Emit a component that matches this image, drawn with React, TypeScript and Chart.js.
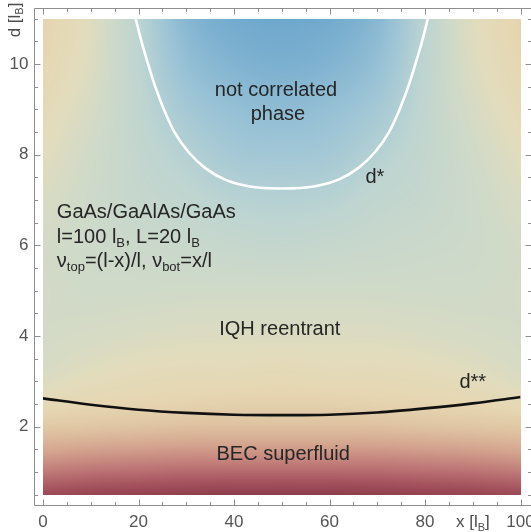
import React, { useEffect, useRef } from "react";
import { Chart, registerables } from "chart.js";

Chart.register(...registerables);

const W = 531;
const H = 532;

// Phase boundary d*(x): upper edge of the IQH region
const dStarX = [19.4, 20.6, 22, 23.5, 25.3, 27.5, 30.5, 34, 38, 43, 50, 57, 62, 66, 69.5, 72.5, 74.7, 76.5, 78, 79.4, 80.6];
const dStarD = [11.0, 10.5, 10.0, 9.5, 9.0, 8.5, 8.05, 7.7, 7.45, 7.3, 7.25, 7.3, 7.45, 7.7, 8.05, 8.5, 9.0, 9.5, 10.0, 10.5, 11.0];

// Phase boundary d**(x): BEC superfluid / IQH reentrant
const dStarStarX = [0, 10, 20, 30, 40, 50, 60, 70, 80, 90, 100];
const dStarStarD = [2.62, 2.48, 2.37, 2.3, 2.26, 2.25, 2.26, 2.31, 2.4, 2.51, 2.65];

// Normalised order parameter sampled on an (x, d) grid
const fieldX = [0, 10, 20, 30, 40, 50, 60, 70, 80, 90, 100];
const fieldD = [0.5, 1, 1.5, 2, 2.5, 3, 4, 5, 6, 7, 8, 9, 10, 11];
const fieldRows: number[][] = [
  [0.07, 0.05, 0.04, 0.03, 0.02, 0.02, 0.02, 0.03, 0.04, 0.05, 0.07],
  [0.2, 0.18, 0.17, 0.16, 0.16, 0.16, 0.16, 0.16, 0.17, 0.18, 0.2],
  [0.32, 0.3, 0.29, 0.28, 0.28, 0.28, 0.28, 0.28, 0.29, 0.3, 0.32],
  [0.42, 0.41, 0.4, 0.39, 0.39, 0.39, 0.39, 0.39, 0.4, 0.41, 0.42],
  [0.5, 0.48, 0.47, 0.46, 0.45, 0.45, 0.45, 0.46, 0.47, 0.48, 0.5],
  [0.56, 0.53, 0.51, 0.5, 0.5, 0.49, 0.5, 0.5, 0.51, 0.53, 0.56],
  [0.59, 0.58, 0.57, 0.56, 0.56, 0.56, 0.56, 0.56, 0.57, 0.58, 0.59],
  [0.59, 0.6, 0.6, 0.6, 0.6, 0.6, 0.6, 0.6, 0.6, 0.6, 0.59],
  [0.59, 0.61, 0.62, 0.63, 0.64, 0.65, 0.64, 0.63, 0.62, 0.61, 0.59],
  [0.57, 0.61, 0.64, 0.66, 0.69, 0.7, 0.69, 0.66, 0.64, 0.61, 0.57],
  [0.54, 0.6, 0.65, 0.7, 0.75, 0.76, 0.75, 0.7, 0.65, 0.6, 0.54],
  [0.51, 0.58, 0.66, 0.75, 0.8, 0.82, 0.8, 0.75, 0.66, 0.58, 0.51],
  [0.48, 0.56, 0.67, 0.8, 0.86, 0.88, 0.86, 0.8, 0.67, 0.56, 0.48],
  [0.46, 0.55, 0.68, 0.84, 0.91, 0.93, 0.91, 0.84, 0.68, 0.55, 0.46],
];

// Axis ticks
const xTicks = [0, 20, 40, 60, 80, 100];
const xTickLabels = ["0", "20", "40", "60", "80", "100"];
const yTicks = [2, 4, 6, 8, 10];
const yTickLabels = ["2", "4", "6", "8", "10"];

// Red-to-blue colour scale
const scaleStops = [0, 0.1, 0.2, 0.3, 0.4, 0.48, 0.54, 0.6, 0.68, 0.78, 0.88, 1];
const scaleColors = ["#883747", "#a5535e", "#c07a78", "#d4a38e", "#dfc4a2", "#e6d7b2", "#e2dcbd", "#d0dac8", "#bcd4d2", "#9cc4d6", "#7cb0d0", "#5d9cc8"];

type Part = [string, boolean];
type Note = { x: number; d: number; parts: Part[]; align: CanvasTextAlign };

const notes: Note[] = [
  { x: 48.8, d: 9.42, parts: [["not correlated", false]], align: "center" },
  { x: 49.2, d: 8.89, parts: [["phase", false]], align: "center" },
  { x: 69.5, d: 7.5, parts: [["d*", false]], align: "center" },
  { x: 2.9, d: 6.71, parts: [["GaAs/GaAlAs/GaAs", false]], align: "left" },
  { x: 2.9, d: 6.18, parts: [["l=100 l", false], ["B", true], [", L=20 l", false], ["B", true]], align: "left" },
  { x: 2.9, d: 5.65, parts: [["ν", false], ["top", true], ["=(l-x)/l, ν", false], ["bot", true], ["=x/l", false]], align: "left" },
  { x: 49.6, d: 4.15, parts: [["IQH reentrant", false]], align: "center" },
  { x: 90, d: 2.96, parts: [["d**", false]], align: "center" },
  { x: 50.3, d: 1.39, parts: [["BEC superfluid", false]], align: "center" },
];

const FONT = '"Liberation Sans", Arial, Helvetica, sans-serif';

function hexToRgb(h: string): number[] {
  const n = parseInt(h.slice(1), 16);
  return [(n >> 16) & 255, (n >> 8) & 255, n & 255];
}
const scaleRgb = scaleColors.map(hexToRgb);

function colorAt(v: number): number[] {
  if (v <= scaleStops[0]) return scaleRgb[0];
  const n = scaleStops.length;
  if (v >= scaleStops[n - 1]) return scaleRgb[n - 1];
  let k = 0;
  while (k < n - 2 && v > scaleStops[k + 1]) k++;
  const t = (v - scaleStops[k]) / (scaleStops[k + 1] - scaleStops[k]);
  const a = scaleRgb[k];
  const b = scaleRgb[k + 1];
  return [a[0] + (b[0] - a[0]) * t, a[1] + (b[1] - a[1]) * t, a[2] + (b[2] - a[2]) * t];
}

// Cubic Hermite interpolation on a non-uniform grid
function hermite(xs: number[], ys: ArrayLike<number>, x: number): number {
  const n = xs.length;
  if (x <= xs[0]) return ys[0];
  if (x >= xs[n - 1]) return ys[n - 1];
  let k = 0;
  while (k < n - 2 && x > xs[k + 1]) k++;
  const slope = (i: number) => {
    if (i === 0) return (ys[1] - ys[0]) / (xs[1] - xs[0]);
    if (i === n - 1) return (ys[n - 1] - ys[n - 2]) / (xs[n - 1] - xs[n - 2]);
    return 0.5 * ((ys[i + 1] - ys[i]) / (xs[i + 1] - xs[i]) + (ys[i] - ys[i - 1]) / (xs[i] - xs[i - 1]));
  };
  const h = xs[k + 1] - xs[k];
  const t = (x - xs[k]) / h;
  const t2 = t * t;
  const t3 = t2 * t;
  return (
    (2 * t3 - 3 * t2 + 1) * ys[k] +
    (t3 - 2 * t2 + t) * h * slope(k) +
    (-2 * t3 + 3 * t2) * ys[k + 1] +
    (t3 - t2) * h * slope(k + 1)
  );
}

function drawRich(ctx: CanvasRenderingContext2D, parts: Part[], x: number, y: number, align: CanvasTextAlign, size: number, subSize: number, subShift: number) {
  const mainFont = `${size}px ${FONT}`;
  const subFont = `${subSize}px ${FONT}`;
  let total = 0;
  for (const [t, sub] of parts) {
    ctx.font = sub ? subFont : mainFont;
    total += ctx.measureText(t).width;
  }
  let cx = align === "center" ? x - total / 2 : align === "right" ? x - total : x;
  ctx.textAlign = "left";
  ctx.textBaseline = "middle";
  for (const [t, sub] of parts) {
    ctx.font = sub ? subFont : mainFont;
    ctx.fillText(t, cx, sub ? y + subShift : y);
    cx += ctx.measureText(t).width;
  }
}

const heatmapPlugin = {
  id: "heatmap",
  beforeDatasetsDraw(chart: any) {
    const { ctx, chartArea: a, scales } = chart;
    const xs = scales.x;
    const ys = scales.y;
    const w = Math.round(a.right - a.left);
    const h = Math.round(a.bottom - a.top);
    const off = document.createElement("canvas");
    off.width = w;
    off.height = h;
    const octx = off.getContext("2d")!;
    const img = octx.createImageData(w, h);
    const col = new Array(fieldD.length).fill(0);
    for (let i = 0; i < w; i++) {
      const xv = xs.getValueForPixel(a.left + (i + 0.5) * ((a.right - a.left) / w));
      for (let r = 0; r < fieldD.length; r++) col[r] = hermite(fieldX, fieldRows[r], xv);
      for (let j = 0; j < h; j++) {
        const dv = ys.getValueForPixel(a.top + (j + 0.5) * ((a.bottom - a.top) / h));
        const c = colorAt(hermite(fieldD, col, dv));
        const p = (j * w + i) * 4;
        img.data[p] = c[0];
        img.data[p + 1] = c[1];
        img.data[p + 2] = c[2];
        img.data[p + 3] = 255;
      }
    }
    octx.putImageData(img, 0, 0);
    ctx.save();
    ctx.imageSmoothingEnabled = true;
    ctx.drawImage(off, a.left, a.top, a.right - a.left, a.bottom - a.top);
    ctx.restore();
  },
};

const framePlugin = {
  id: "frame",
  afterDatasetsDraw(chart: any) {
    const { ctx, chartArea: a, scales } = chart;
    const xs = scales.x;
    const ys = scales.y;

    // text annotations inside the plot
    ctx.save();
    ctx.fillStyle = "#262626";
    for (const n of notes) {
      drawRich(ctx, n.parts, xs.getPixelForValue(n.x), ys.getPixelForValue(n.d), n.align, 20, 13, 6);
    }
    ctx.restore();

    // frame, offset from the plot area
    const L = Math.round(a.left - 9.5) + 0.5;
    const T = Math.round(a.top - 11) + 0.5;
    const B = Math.round(a.bottom + 10) + 0.5;
    const R = Math.round(a.right + 10) + 0.5;
    ctx.save();
    ctx.strokeStyle = "#8e8e8e";
    ctx.lineWidth = 1;
    ctx.beginPath();
    ctx.moveTo(L, T);
    ctx.lineTo(R, T);
    ctx.lineTo(R, B);
    ctx.lineTo(L, B);
    ctx.closePath();
    ctx.stroke();

    ctx.beginPath();
    for (let v = 0; v <= 100.001; v += 5) {
      const major = xTicks.includes(Math.round(v));
      const len = major ? 6 : 3.5;
      const px = Math.round(xs.getPixelForValue(v)) + 0.5;
      ctx.moveTo(px, B);
      ctx.lineTo(px, B - len);
      ctx.moveTo(px, T);
      ctx.lineTo(px, T + len);
    }
    for (let v = 0.5; v <= 11.001; v += 0.5) {
      const major = yTicks.includes(v);
      const len = major ? 6 : 3.5;
      const py = Math.round(ys.getPixelForValue(v)) + 0.5;
      ctx.moveTo(L, py);
      ctx.lineTo(L + len, py);
      ctx.moveTo(R, py);
      ctx.lineTo(R - len, py);
    }
    ctx.stroke();

    // tick labels
    ctx.fillStyle = "#555555";
    ctx.font = `17px ${FONT}`;
    ctx.textBaseline = "middle";
    ctx.textAlign = "right";
    yTicks.forEach((v, i) => ctx.fillText(yTickLabels[i], L - 6, ys.getPixelForValue(v)));
    ctx.textAlign = "center";
    xTicks.forEach((v, i) => ctx.fillText(xTickLabels[i], xs.getPixelForValue(v), B + 17));

    // axis titles
    ctx.fillStyle = "#4d4d4d";
    drawRich(ctx, [["x [l", false], ["B", true], ["]", false]], 456, B + 17, "left", 17, 11, 5);
    ctx.translate(15, 20);
    ctx.rotate(-Math.PI / 2);
    drawRich(ctx, [["d [l", false], ["B", true], ["]", false]], 0, 0, "center", 17, 11, 5);
    ctx.restore();
  },
};

export default function App() {
  const ref = useRef<HTMLCanvasElement | null>(null);

  useEffect(() => {
    if (!ref.current) return;
    const chart = new Chart(ref.current, {
      type: "line",
      data: {
        datasets: [
          {
            label: "d*",
            data: dStarX.map((x, i) => ({ x, y: dStarD[i] })),
            borderColor: "#ffffff",
            borderWidth: 2.6,
            pointRadius: 0,
            cubicInterpolationMode: "monotone",
            fill: false,
          },
          {
            label: "d**",
            data: dStarStarX.map((x, i) => ({ x, y: dStarStarD[i] })),
            borderColor: "#111111",
            borderWidth: 2.6,
            pointRadius: 0,
            cubicInterpolationMode: "monotone",
            fill: false,
          },
        ],
      },
      options: {
        responsive: false,
        animation: false,
        devicePixelRatio: 1,
        layout: { padding: { left: 43, top: 18.5, right: W - 520.5, bottom: H - 494.5 } },
        scales: {
          x: { type: "linear", min: 0, max: 100, display: false },
          y: { type: "linear", min: 0.5, max: 11, display: false },
        },
        plugins: { legend: { display: false }, tooltip: { enabled: false } },
        events: [],
      },
      plugins: [heatmapPlugin, framePlugin],
    });
    return () => chart.destroy();
  }, []);

  return (
    <div style={{ position: "fixed", left: 0, top: 0, width: W, height: H, background: "#ffffff" }}>
      <canvas ref={ref} width={W} height={H} style={{ display: "block", width: W, height: H }} />
    </div>
  );
}
